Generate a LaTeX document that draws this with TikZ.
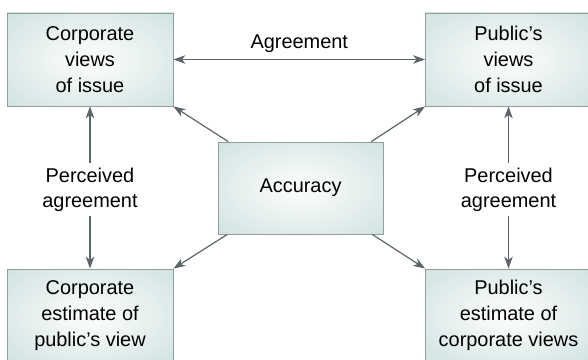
\documentclass[tikz,border=0pt]{standalone}
\usepackage{fontspec}
\setmainfont{Liberation Sans}
\usetikzlibrary{arrows.meta}
\definecolor{boxedge}{HTML}{C2DBD8}
\definecolor{boxcentre}{HTML}{F8FAFA}
\definecolor{boxline}{HTML}{929D9D}
\definecolor{arrowgrey}{HTML}{5C6669}
\pgfdeclareradialshading{boxglow}{\pgfpoint{0bp}{0bp}}{color(0bp)=(boxcentre); color(5bp)=(boxcentre); color(46bp)=(boxedge); color(50bp)=(boxedge)}

\begin{document}
\begin{tikzpicture}[x=1bp, y=1bp, >={Stealth[length=12bp, width=8.5bp, inset=3.5bp]}]
        \tikzset{%
         every view/.style={
            rectangle,
            draw=boxline,
            line width=0.8bp,
            shading=boxglow,
            minimum width=166bp,
            minimum height=93bp,
            align=center,
            font=\fontsize{20}{26}\selectfont},
         link/.style={
            draw=arrowgrey,
            line width=1.2bp},
         link label/.style={
            align=center,
            inner sep=5bp,
            font=\fontsize{20}{25}\selectfont},
        }
        \useasboundingbox (0,0) rectangle (588,359);

        \node [every view] (corp-view) at (90,299.5) {Corporate\\views\\of issue};
        \node [every view] (pub-view) at (508.5,299.5) {Public's\\views\\of issue};
        \node [every view, minimum width=165bp, minimum height=92bp] (accuracy) at (300.5,171) {Accuracy};
        \node [every view] (corp-est) at (90,43.5) {Corporate\\estimate of\\public's view};
        \node [every view] (pub-est) at (508.5,43.5) {Public's\\estimate of\\corporate views};

        \foreach \s/\x in {corp/90, pub/508.5}
        {
            \node [link label] (perceived-\s) at (\x,169.5) {Perceived\\agreement};
            \draw [link, ->] (perceived-\s) -- (\s-view);
            \draw [link, ->] (perceived-\s) -- (\s-est);
        }

        \draw [link, <->] (corp-view) -- (pub-view)
            node [midway, above=3bp, font=\fontsize{20}{25}\selectfont] (agreement) {Agreement};

        \foreach \t in {corp-view.south east, pub-view.south west, corp-est.north east, pub-est.north west}
            \draw [link, ->] (accuracy) -- (\t);
\end{tikzpicture}
\end{document}
